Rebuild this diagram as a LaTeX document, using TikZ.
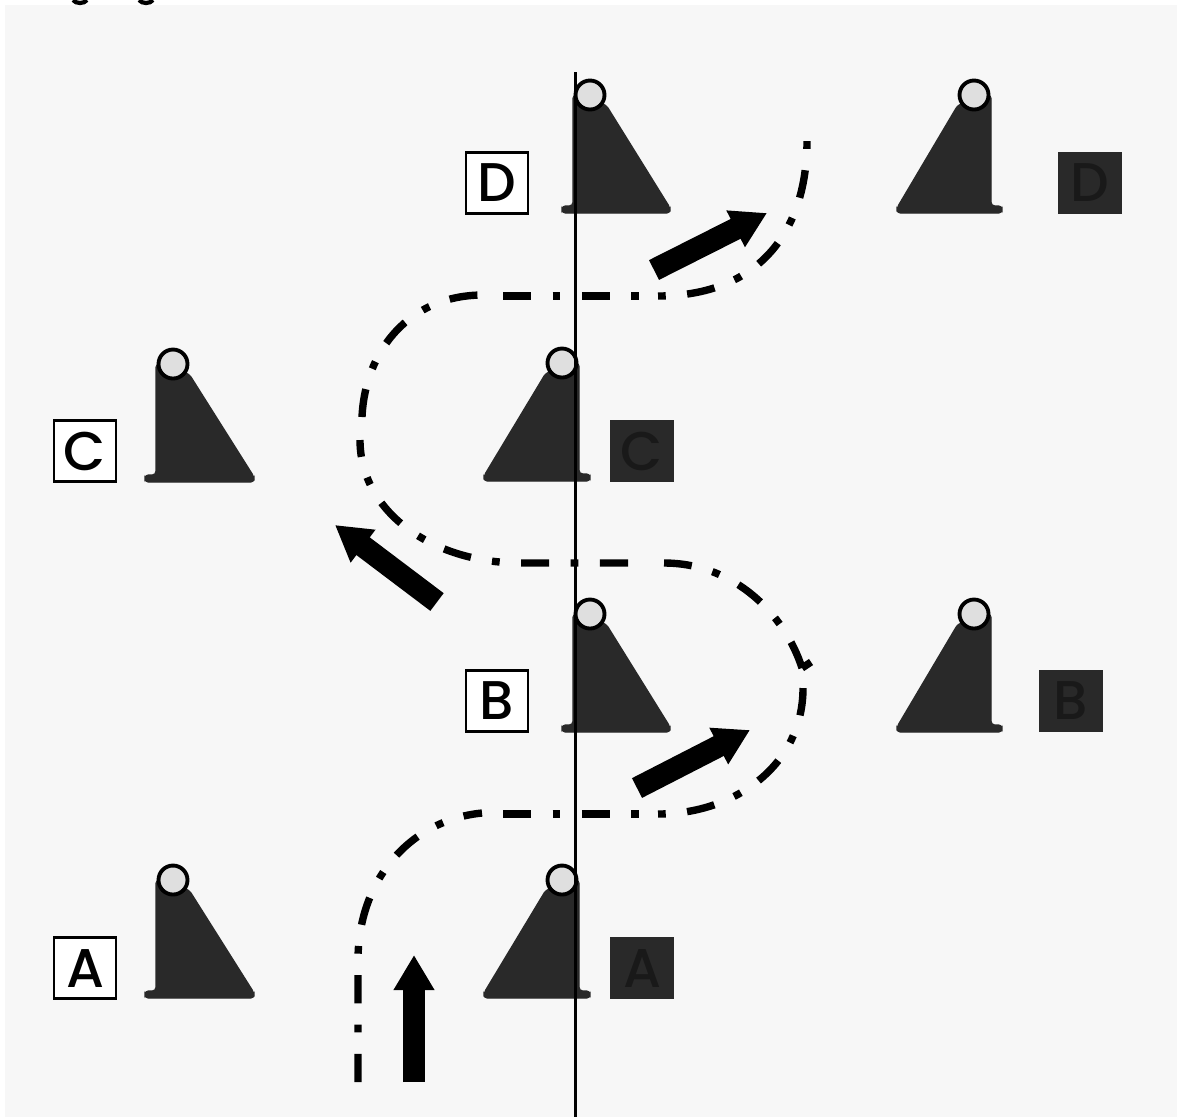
\documentclass[tikz,border=0pt]{standalone}
\usepackage{fontspec}
\newfontfamily\signfont{Poppins Medium}
\usetikzlibrary{arrows.meta}
\definecolor{paper}{gray}{0.97}
\definecolor{ink}{gray}{0.16}
\definecolor{inkdark}{gray}{0.10}
\tikzset{
	labelbox/.style={draw=black,fill=white,line width=0.6pt,minimum width=0.62cm,minimum height=0.61cm,inner sep=0pt,font=\signfont\fontsize{15.5}{16}\selectfont},
	darkbox/.style={fill=ink,text=inkdark,minimum width=0.64cm,minimum height=0.62cm,inner sep=0pt,font=\signfont\fontsize{15.5}{16}\selectfont},
	route/.style={line width=2.1pt,dash pattern=on 8pt off 6.1pt on 2.2pt off 6.1pt},
	routedot/.style={route,dash phase=14.1pt},
	move/.style={line width=6.3pt,-{Triangle[length=10pt,width=11pt]}},
	pylon/.pic={
			\filldraw[ink,rounded corners=1pt] (0,-118) -- (33,-108) -- (#1,-5) -- (#1,0) -- (-11,0) -- (-11,-7) -- (0,-7) -- cycle;
			\filldraw[fill=gray!25,draw=black,line width=1.1pt] (17,-118) circle (14.5);
		}
}
\begin{document}
\begin{tikzpicture}[x=0.01cm,y=-0.01cm]
	\useasboundingbox (0,0) rectangle (1177,1117);
	\fill[white] (0,0) rectangle (1177,1117);
	\fill[paper] (5,5) rectangle (1177,1117);
	% cut off letters on top
	\draw[line width=1.2pt] (73,0) .. controls (76,4) and (84,4) .. (87,0);
	\draw[line width=1.2pt] (139,0) .. controls (142,4) and (150,4) .. (153,0);
	% positions of the pylons
	\coordinate (a_left) at (156,998);
	\coordinate (c_left) at (156,482);
	\coordinate (b_mid) at (573,732);
	\coordinate (d_mid) at (573,213);
	\coordinate (a_mid) at (579,998);
	\coordinate (c_mid) at (579,481);
	\coordinate (b_right) at (991,732);
	\coordinate (d_right) at (991,213);
	\pic at (a_left) {pylon=98};
	\pic at (c_left) {pylon=98};
	\pic at (b_mid) {pylon=97};
	\pic at (d_mid) {pylon=97};
	\pic[xscale=-1] at (a_mid) {pylon=95};
	\pic[xscale=-1] at (c_mid) {pylon=95};
	\pic[xscale=-1] at (b_right) {pylon=94};
	\pic[xscale=-1] at (d_right) {pylon=94};
	% centre line
	\coordinate (line_top) at (575,72);
	\coordinate (line_bottom) at (575,1117);
	\draw[line width=0.85pt] (line_top) -- (line_bottom);
	% letters
	\node[labelbox] (label_a) at (85,968) {A};
	\node[labelbox] (label_c) at (85,451) {C};
	\node[labelbox] (label_b) at (497,701) {B};
	\node[labelbox] (label_d) at (497,183) {D};
	\node[darkbox] (box_a) at (642,968) {A};
	\node[darkbox] (box_c) at (642,451) {C};
	\node[darkbox] (box_b) at (1071,701) {B};
	\node[darkbox] (box_d) at (1090,183) {D};
	% route of the car
	\coordinate (r_start) at (358,1082);
	\coordinate (r_1) at (358,960);
	\coordinate (r_2) at (482,813);
	\coordinate (r_3) at (503,814);
	\coordinate (r_4) at (640,814);
	\coordinate (r_5) at (658,814);
	\coordinate (r_6) at (803,688);
	\coordinate (r_7) at (802,668);
	\coordinate (r_8) at (664,563);
	\coordinate (r_9) at (628,563);
	\coordinate (r_10) at (521,563);
	\coordinate (r_11) at (360,440);
	\coordinate (r_12) at (362,417);
	\coordinate (r_13) at (483,295);
	\coordinate (r_14) at (503,296);
	\coordinate (r_15) at (640,296);
	\coordinate (r_16) at (658,296);
	\coordinate (r_end) at (807,141);
	\coordinate (kink) at (811,662);
	\draw[route] (r_start) -- (r_1) .. controls (358,880) and (410,820) .. (r_2);
	\draw[route] (r_3) -- (r_4);
	\draw[routedot] (r_5) .. controls (735,814) and (803,765) .. (r_6);
	\draw[route] (r_7) .. controls (785,615) and (735,563) .. (r_8);
	\draw[route] (r_9) -- (r_10) .. controls (430,563) and (360,510) .. (r_11);
	\draw[route] (r_12) .. controls (365,350) and (410,295) .. (r_13);
	\draw[route] (r_14) -- (r_15);
	\draw[routedot] (r_16) .. controls (760,296) and (807,230) .. (r_end);
	\draw[line width=2.1pt] (r_7) -- (kink);
	% arrows
	\coordinate (m_a1) at (414,1082);
	\coordinate (m_a2) at (414,955);
	\coordinate (m_b1) at (637,788);
	\coordinate (m_b2) at (750,730);
	\coordinate (m_c1) at (437,602);
	\coordinate (m_c2) at (335,525);
	\coordinate (m_d1) at (654,270);
	\coordinate (m_d2) at (767,213);
	\draw[move] (m_a1) -- (m_a2);
	\draw[move] (m_b1) -- (m_b2);
	\draw[move] (m_c1) -- (m_c2);
	\draw[move] (m_d1) -- (m_d2);
\end{tikzpicture}
\end{document}
